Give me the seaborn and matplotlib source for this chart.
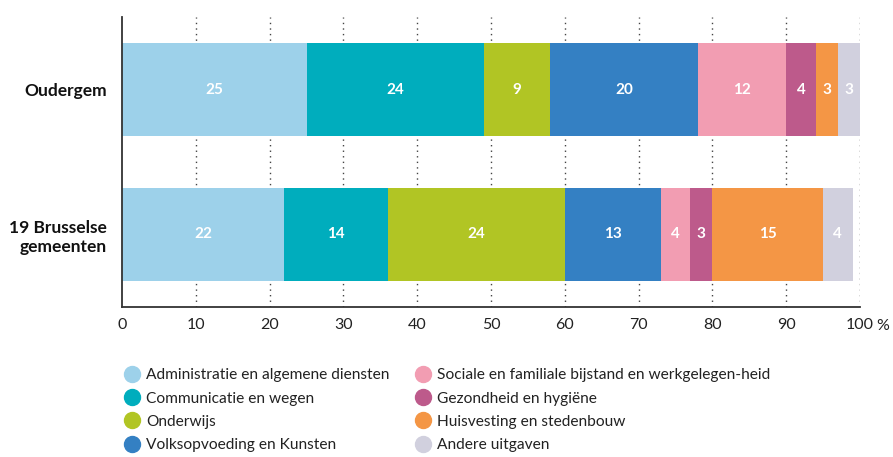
import matplotlib
matplotlib.use("Agg")
import matplotlib.pyplot as plt
from matplotlib.lines import Line2D
import numpy as np
import pandas as pd
import seaborn as sns

# Spending shares (%) per function
regions = ["Oudergem", "19 Brusselse\ngemeenten"]
categories = [
    "Administratie en algemene diensten",
    "Communicatie en wegen",
    "Onderwijs",
    "Volksopvoeding en Kunsten",
    "Sociale en familiale bijstand en werkgelegen-heid",
    "Gezondheid en hygiëne",
    "Huisvesting en stedenbouw",
    "Andere uitgaven",
]
oudergem = [25, 24, 9, 20, 12, 4, 3, 3]
brussel = [22, 14, 24, 13, 4, 3, 15, 4]
colors = ["#9dd1ea", "#00adbd", "#b1c524", "#3480c3",
          "#f29db2", "#bd5a8b", "#f49645", "#d1d0de"]
xticks = [0, 10, 20, 30, 40, 50, 60, 70, 80, 90, 100]

sns.set_theme(style="white")
plt.rcParams["font.family"] = ["Lato", "DejaVu Sans"]

values = np.array([oudergem, brussel])
cum = values.cumsum(axis=1)

df = pd.DataFrame({
    "region": np.repeat(regions, len(categories)),
    "category": categories * len(regions),
    "value": values.ravel(),
    "cum": cum.ravel(),
})

fig = plt.figure(figsize=(8.93, 4.57), dpi=100)
ax = fig.add_axes([122 / 893, 1 - 307 / 457, (860 - 122) / 893, (307 - 17) / 457])

# dotted vertical gridlines behind the bars
for x in xticks[1:]:
    ax.axvline(x, color="#444444", lw=1.0, ls=(0, (1, 3)), zorder=0)

# stacked bars: draw cumulative totals from the last segment to the first
for i in range(len(categories) - 1, -1, -1):
    sub = df[df["category"] == categories[i]]
    sns.barplot(data=sub, x="cum", y="region", order=regions, color=colors[i],
                orient="h", width=0.64, saturation=1, ax=ax, zorder=2,
                edgecolor="none", linewidth=0)

# value labels centred in each segment
for r, reg in enumerate(regions):
    sub = df[df["region"] == reg]
    for _, row in sub.iterrows():
        ax.text(row["cum"] - row["value"] / 2, r, f"{row['value']}",
                ha="center", va="center", color="white", fontsize=11,
                fontweight="bold", zorder=3)

ax.set_xlim(0, 100)
ax.set_ylim(1.5, -0.5)
ax.set_xticks(xticks)
ax.set_xticklabels([str(t) for t in xticks], fontsize=11.5, color="#222222")
ax.tick_params(axis="x", length=0, pad=8)
ax.tick_params(axis="y", length=0, pad=11)
ax.set_yticks([0, 1])
ax.set_yticklabels(regions, fontsize=12.5, fontweight="bold", color="#111111",
                   ha="right", linespacing=1.2)
ax.set_xlabel("")
ax.set_ylabel("")

for side in ["top", "right"]:
    ax.spines[side].set_visible(False)
for side in ["left", "bottom"]:
    ax.spines[side].set_color("#333333")
    ax.spines[side].set_linewidth(1.3)

# unit after the 100 tick label
fig.text(876 / 893, 1 - 326 / 457, "%", ha="left", va="center",
         fontsize=11.5, color="#222222")

handles = [Line2D([0], [0], marker="o", linestyle="none", markersize=11.5,
                  markerfacecolor=c, markeredgecolor=c) for c in colors]
fig.legend(handles, categories, ncol=2, loc="upper left",
           bbox_to_anchor=(116 / 893, 1 - 362 / 457), frameon=False,
           fontsize=11.2, handletextpad=0.25, columnspacing=1.5,
           labelspacing=0.6, handlelength=1.3, borderaxespad=0,
           labelcolor="#222222")

fig.savefig("out.png", dpi=100)
